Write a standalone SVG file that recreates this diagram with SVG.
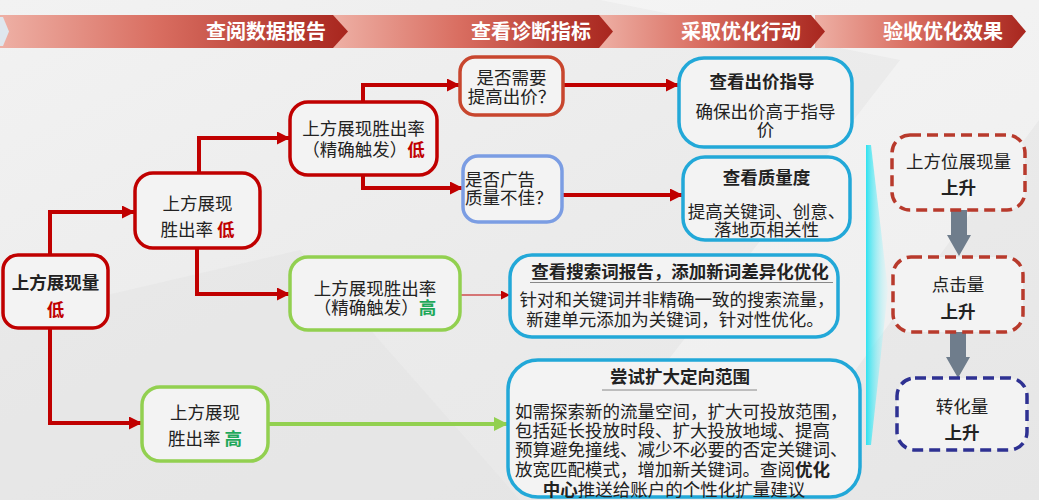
<svg xmlns="http://www.w3.org/2000/svg" width="1039" height="500" viewBox="0 0 1039 500">
<defs>
<linearGradient id="bg" x1="0" y1="0" x2="1" y2="1">
<stop offset="0" stop-color="#f2f2f2"/><stop offset="0.5" stop-color="#ebebeb"/><stop offset="1" stop-color="#e6e6e6"/>
</linearGradient>
<linearGradient id="seg" x1="0" y1="0" x2="1" y2="0">
<stop offset="0" stop-color="#eeb0a5"/><stop offset="0.45" stop-color="#d96e61"/><stop offset="1" stop-color="#a8261e"/>
</linearGradient>
<linearGradient id="glow" x1="0" y1="0" x2="1" y2="0">
<stop offset="0" stop-color="#2fe2f0"/><stop offset="1" stop-color="#d8f6f9" stop-opacity="0.3"/>
</linearGradient>
<marker id="ar" viewBox="0 0 12 12" refX="12" refY="6" markerWidth="13" markerHeight="13" markerUnits="userSpaceOnUse" orient="auto"><path d="M0,0 L12,6 L0,12 z" fill="#c00000"/></marker>
<marker id="ars" viewBox="0 0 10 10" refX="10" refY="5" markerWidth="10" markerHeight="9" markerUnits="userSpaceOnUse" orient="auto"><path d="M0,0 L10,5 L0,10 z" fill="#c00000"/></marker>
<marker id="ag" viewBox="0 0 12 12" refX="12" refY="6" markerWidth="14" markerHeight="14" markerUnits="userSpaceOnUse" orient="auto"><path d="M0,0 L12,6 L0,12 z" fill="#92d050"/></marker>
</defs>
<style>
text{font-family:"Noto Sans CJK SC","Noto Sans",sans-serif;font-size:17.5px;fill:#222}
.c{text-anchor:middle}
.b{font-weight:bold}
.h{font-size:20px;font-weight:bold;fill:#fff;text-anchor:middle}
.lo{fill:#c00000;font-weight:bold}
.hi{fill:#1fa85a;font-weight:bold}
.red{fill:#f3f3f3;stroke:#c00000;stroke-width:3.5}
.org{fill:#f3f3f3;stroke:#c8462e;stroke-width:3.5}
.grn{fill:#f3f3f3;stroke:#92d050;stroke-width:3.5}
.lb{fill:#f3f3f3;stroke:#7b9de3;stroke-width:3.5}
.cy{fill:#f3f3f3;stroke:#22a8d8;stroke-width:3.5}
.dr{fill:#f3f3f3;stroke:#b83a2c;stroke-width:3.5;stroke-dasharray:11 6}
.db{fill:#f3f3f3;stroke:#2e3192;stroke-width:3.5;stroke-dasharray:11 6}
.ln{fill:none;stroke:#c00000;stroke-width:4}
.ul{stroke:#888;stroke-width:1}
</style>
<rect width="1039" height="500" fill="url(#bg)"/>
<polygon points="600,0 1039,0 1039,120 760,500 560,500 900,60" fill="#ffffff" opacity="0.35"/>
<polygon points="0,320 300,250 520,500 0,500" fill="#e2e2e2" opacity="0.4"/>

<g id="header">
<polygon points="815,15 1012,15 1026,31.5 1012,48 815,48" fill="url(#seg)"/>
<polygon points="598,15 811,15 825,31.5 811,48 598,48" fill="url(#seg)"/>
<polygon points="333,15 599,15 613,31.5 599,48 333,48" fill="url(#seg)"/>
<polygon points="0,15 333,15 348,31.5 333,48 0,48" fill="url(#seg)"/>
<polygon points="0,17 3,17 9,31.5 3,46 0,46" fill="#dfe7ee"/>
<text class="h" x="266" y="38.5">查阅数据报告</text>
<text class="h" x="531" y="38.5">查看诊断指标</text>
<text class="h" x="741" y="38.5">采取优化行动</text>
<text class="h" x="943" y="38.5">验收优化效果</text>
</g>

<polygon points="866,145 871,145 888,290 871,445 866,445" fill="url(#glow)"/>

<g id="connectors">
<path class="ln" d="M50,255 V212 H135" marker-end="url(#ar)"/>
<path class="ln" d="M50,328 V423 H142" marker-end="url(#ar)"/>
<path class="ln" d="M199,173 V138 H290" marker-end="url(#ar)"/>
<path class="ln" d="M197,248 V294 H290" marker-end="url(#ar)"/>
<path class="ln" d="M363,102 V85 H460" marker-end="url(#ar)"/>
<path class="ln" d="M363,175 V188 H463" marker-end="url(#ar)"/>
<path class="ln" d="M563,85 H679" marker-end="url(#ar)"/>
<path class="ln" d="M562,195 H683" marker-end="url(#ar)"/>
<path d="M460,295 H510" fill="none" stroke="#c00000" stroke-width="1.2" marker-end="url(#ars)"/>
<path d="M268,424 H508" fill="none" stroke="#92d050" stroke-width="4" marker-end="url(#ag)"/>
<polygon points="951,210 967,210 967,235 971,235 959,256 947,235 951,235" fill="#6f7d8c"/>
<polygon points="950,332 966,332 966,357 970,357 958,378 946,357 950,357" fill="#6f7d8c"/>
</g>

<g id="n1">
<rect class="red" x="3" y="255" width="105" height="73" rx="15"/>
<text class="c b" x="55.5" y="289">上方展现量</text>
<text class="c lo" x="55.5" y="316">低</text>
</g>
<g id="n2">
<rect class="red" x="135" y="173" width="125" height="75" rx="18"/>
<text class="c" x="197.5" y="210">上方展现</text>
<text class="c" x="197.5" y="236">胜出率 <tspan class="lo">低</tspan></text>
</g>
<g id="n3">
<rect class="red" x="290" y="102" width="147" height="73" rx="18"/>
<text class="c" x="363.5" y="135">上方展现胜出率</text>
<text class="c" x="363.5" y="156">（精确触发）<tspan class="lo">低</tspan></text>
</g>
<g id="n4">
<rect class="grn" x="290" y="257" width="170" height="73" rx="18"/>
<text class="c" x="375" y="295">上方展现胜出率</text>
<text class="c" x="375" y="314">（精确触发）<tspan class="hi">高</tspan></text>
</g>
<g id="n5">
<rect class="grn" x="142" y="387" width="126" height="74" rx="18"/>
<text class="c" x="205" y="419">上方展现</text>
<text class="c" x="205" y="445">胜出率 <tspan class="hi">高</tspan></text>
</g>
<g id="n6">
<rect class="org" x="460" y="57" width="103" height="58" rx="15"/>
<text class="c" x="511.5" y="84">是否需要</text>
<text class="c" x="511.5" y="103">提高出价？</text>
</g>
<g id="n7">
<rect class="lb" x="463" y="156" width="99" height="66" rx="15"/>
<text x="465" y="186">是否广告</text>
<text x="465" y="204">质量不佳？</text>
</g>
<g id="n8">
<rect class="cy" x="679" y="58" width="173" height="89" rx="25"/>
<text class="c b" x="762" y="88">查看出价指导</text>
<text class="c" x="765.5" y="118">确保出价高于指导</text>
<text class="c" x="765.5" y="136">价</text>
</g>
<g id="n9">
<rect class="cy" x="683" y="157" width="167" height="83" rx="22"/>
<text class="c b" x="766.5" y="184">查看质量度</text>
<text class="c" x="766.5" y="218">提高关键词、创意、</text>
<text class="c" x="766.5" y="236">落地页相关性</text>
</g>
<g id="n10">
<rect class="cy" x="510" y="255" width="328" height="82" rx="22"/>
<text class="c b" x="680" y="278">查看搜索词报告，添加新词差异化优化</text>
<line class="ul" x1="530" y1="282.5" x2="833" y2="282.5"/>
<text class="c" x="677" y="306">针对和关键词并非精确一致的搜索流量，</text>
<text class="c" x="675" y="326">新建单元添加为关键词，针对性优化。</text>
</g>
<g id="n11">
<rect class="cy" x="508" y="360" width="352" height="137" rx="30"/>
<text class="c b" x="680" y="383">尝试扩大定向范围</text>
<line class="ul" x1="602" y1="390" x2="757" y2="390"/>
<text x="515" y="418">如需探索新的流量空间，扩大可投放范围，</text>
<text x="515" y="437">包括延长投放时段、扩大投放地域、提高</text>
<text x="515" y="456">预算避免撞线、减少不必要的否定关键词、</text>
<text x="515" y="476">放宽匹配模式，增加新关键词。查阅<tspan class="b">优化</tspan></text>
<text class="c" x="674" y="496"><tspan class="b">中心</tspan>推送给账户的个性化扩量建议</text>
</g>
<g id="r1">
<rect class="dr" x="892" y="135" width="133" height="75" rx="18"/>
<text class="c" x="958.5" y="168">上方位展现量</text>
<text class="c b" x="958.5" y="194">上升</text>
</g>
<g id="r2">
<rect class="dr" x="893" y="257" width="130" height="75" rx="18"/>
<text class="c" x="958" y="291">点击量</text>
<text class="c b" x="958" y="318">上升</text>
</g>
<g id="r3">
<rect class="db" x="897" y="378" width="130" height="72" rx="18"/>
<text class="c" x="962" y="413">转化量</text>
<text class="c b" x="962" y="439">上升</text>
</g>
</svg>
